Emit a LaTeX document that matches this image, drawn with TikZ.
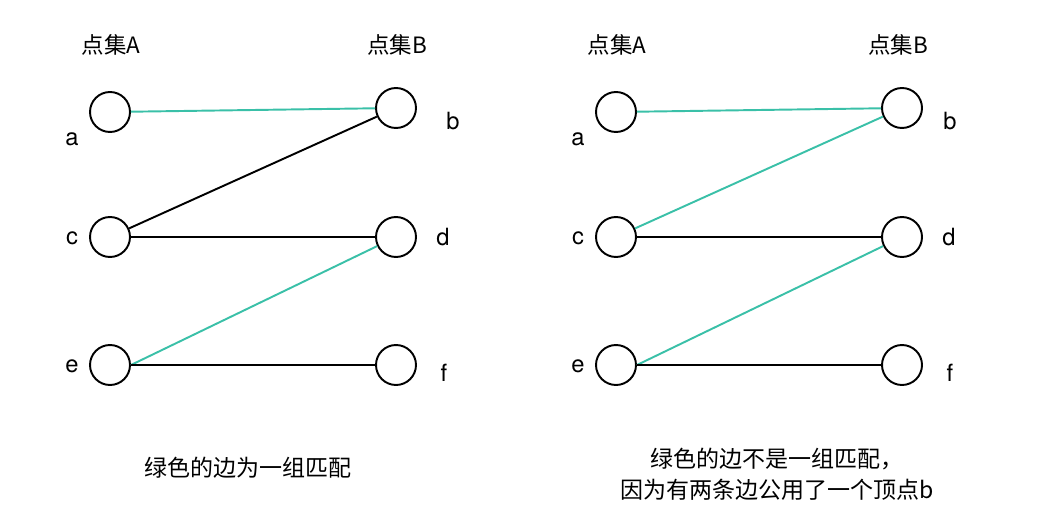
\documentclass[tikz,border=0pt]{standalone}
\usepackage{fontspec}
\setmainfont{Noto Sans CJK SC}
\newfontfamily\labelfont{TeX Gyre Heros}
\usepackage{tikz}
\usetikzlibrary{positioning}
\usepackage{xcolor}
\definecolor{matchgreen}{RGB}{58,192,168}

\begin{document}
\begin{tikzpicture}[
      x=0.02cm, y=-0.02cm,
      vertex/.style={circle, draw=black, line width=1.1pt, minimum size=0.8cm, inner sep=0pt, fill=white},
      edge/.style={draw, line width=1.1pt, color=black},
      match/.style={draw, line width=1.1pt, color=matchgreen},
      vlbl/.style={font=\labelfont\fontsize{13.5}{16}\selectfont, inner sep=0pt},
      head/.style={font=\fontsize{12.8}{15}\selectfont, inner sep=0pt},
      note/.style={font=\fontsize{13.1}{17.5}\selectfont, align=center, inner sep=0pt}
    ]
    \useasboundingbox (0,0) rectangle (1051,513);

    % Left panel: nodes
    \node[head] (lsetA) at (111,45) {点集A};
    \node[head] (lsetB) at (397,45) {点集B};
    \node[vertex] (la) at (110,112) {};
    \node[vertex] (lb) at (396,108) {};
    \node[vertex] (lc) at (110,237) {};
    \node[vertex] (ld) at (396,237) {};
    \node[vertex] (le) at (110,365) {};
    \node[vertex] (lf) at (396,365) {};
    \node[vlbl] (lla) at (72,139) {a};
    \node[vlbl] (llb) at (453,121) {b};
    \node[vlbl] (llc) at (72,238) {c};
    \node[vlbl] (lld) at (443,237) {d};
    \node[vlbl] (lle) at (72,366) {e};
    \node[vlbl] (llf) at (444,373) {f};
    \node[note] (lnote) at (248,468) {绿色的边为一组匹配};

    % Left panel: edges
    \draw[match] (la) -- (lb);
    \draw[edge] (lc) -- (lb);
    \draw[edge] (lc) -- (ld);
    \draw[match] (le.east) -- (ld);
    \draw[edge] (le) -- (lf);

    % Right panel: nodes
    \node[head] (rsetA) at (617,45) {点集A};
    \node[head] (rsetB) at (898,45) {点集B};
    \node[vertex] (ra) at (616,112) {};
    \node[vertex] (rb) at (902,108) {};
    \node[vertex] (rc) at (616,237) {};
    \node[vertex] (rd) at (902,237) {};
    \node[vertex] (re) at (616,365) {};
    \node[vertex] (rf) at (902,365) {};
    \node[vlbl] (rla) at (578,139) {a};
    \node[vlbl] (rlb) at (950,121) {b};
    \node[vlbl] (rlc) at (578,238) {c};
    \node[vlbl] (rld) at (949,237) {d};
    \node[vlbl] (rle) at (578,366) {e};
    \node[vlbl] (rlf) at (950,373) {f};
    \node[note] (rnote) at (777,474) {绿色的边不是一组匹配，\\因为有两条边公用了一个顶点b};

    % Right panel: edges
    \draw[match] (ra) -- (rb);
    \draw[match] (rc) -- (rb);
    \draw[edge] (rc) -- (rd);
    \draw[match] (re.east) -- (rd);
    \draw[edge] (re) -- (rf);
  \end{tikzpicture}
\end{document}
